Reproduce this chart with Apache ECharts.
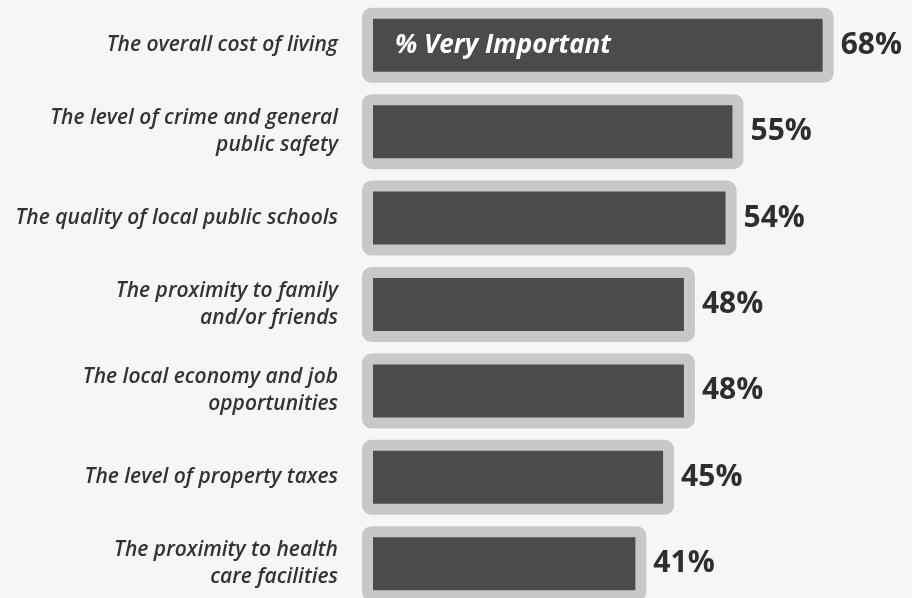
<!DOCTYPE html>
<html>
<head>
<meta charset="utf-8">
<script src="https://cdn.jsdelivr.net/npm/echarts@6/dist/echarts.min.js"></script>
<style>
html,body{margin:0;padding:0;background:#f6f6f5;overflow:hidden;}
#chart{width:912px;height:612px;}
</style>
</head>
<body>
<div id="chart"></div>
<script>
const categories = [
  'The overall cost of living',
  'The level of crime and general\npublic safety',
  'The quality of local public schools',
  'The proximity to family\nand/or friends',
  'The local economy and job\nopportunities',
  'The level of property taxes',
  'The proximity to health\ncare facilities'
];
const values = [68, 55, 54, 48, 48, 45, 41];
const seriesName = '% Very Important';

const chart = echarts.init(document.getElementById('chart'));
chart.setOption({
  backgroundColor: '#f6f6f5',
  animation: false,
  grid: { left: 362, right: 9, top: 2, bottom: 5, containLabel: false },
  xAxis: {
    type: 'value', min: 0, max: 78,
    show: false
  },
  yAxis: {
    type: 'category',
    data: categories,
    inverse: true,
    axisLine: { show: false },
    axisTick: { show: false },
    splitLine: { show: false },
    axisLabel: {
      margin: 24,
      color: '#333333',
      fontFamily: 'Open Sans',
      fontStyle: 'italic',
      fontWeight: 600,
      fontSize: 21,
      lineHeight: 27,
      align: 'right'
    }
  },
  series: [
    {
      name: seriesName,
      type: 'bar',
      data: values,
      barWidth: 75,
      itemStyle: {
        color: '#4b4b4b',
        borderColor: '#c8c8c8',
        borderWidth: 11,
        borderRadius: 4
      },
      label: {
        show: true,
        position: 'right',
        distance: 7,
        formatter: p => p.value + '%',
        color: '#2e2e2e',
        fontFamily: 'Open Sans',
        fontWeight: 'bold',
        fontSize: 30
      }
    },
    {
      name: seriesName + ' label',
      type: 'bar',
      data: values.map((v, i) => i === 0 ? v : '-'),
      barWidth: 75,
      barGap: '-100%',
      silent: true,
      itemStyle: { color: 'rgba(0,0,0,0)' },
      label: {
        show: true,
        position: 'insideLeft',
        distance: 33,
        formatter: seriesName,
        color: '#ffffff',
        fontFamily: 'Open Sans',
        fontStyle: 'italic',
        fontWeight: 'bold',
        fontSize: 26
      }
    }
  ]
});
</script>
</body>
</html>
